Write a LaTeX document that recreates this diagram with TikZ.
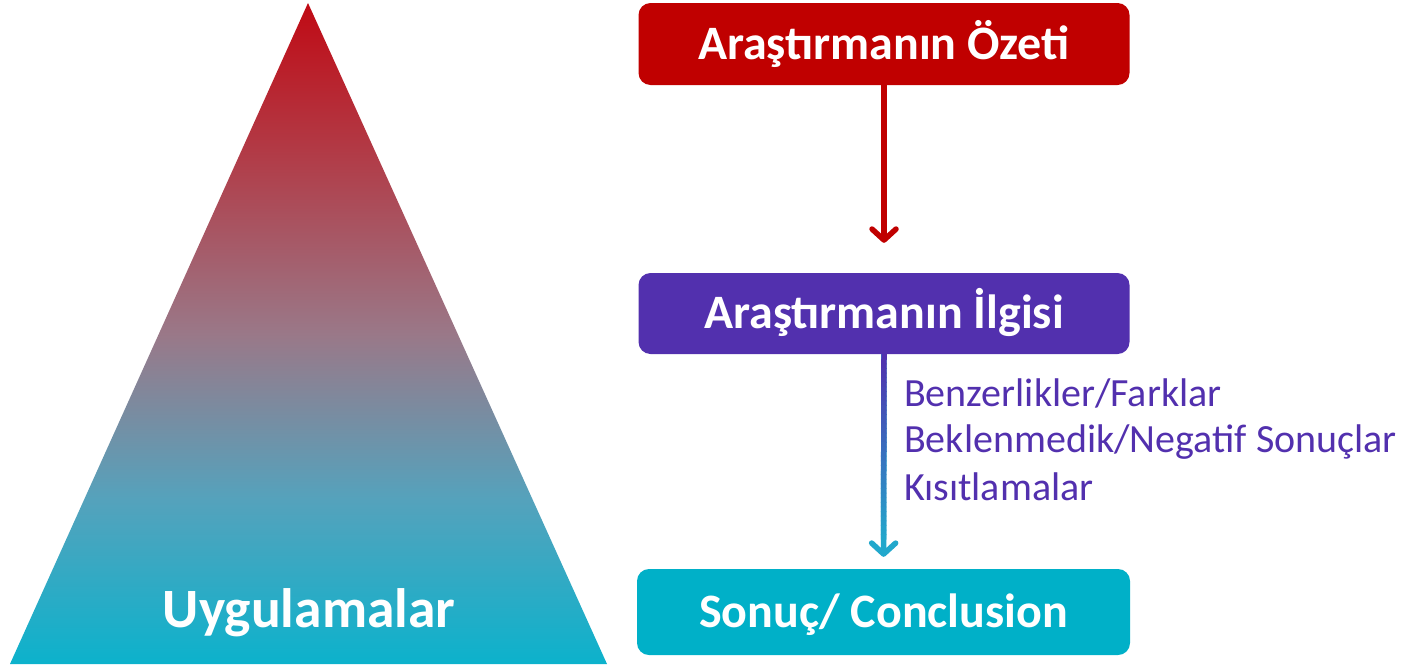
\documentclass[tikz,border=0pt]{standalone}
\usepackage{fontspec}
\setmainfont{Carlito}
\usetikzlibrary{arrows.meta,calc}
\definecolor{ozetred}{HTML}{C00000}
\definecolor{ilgipurple}{HTML}{5230AE}
\definecolor{sonuccyan}{HTML}{00B0C8}
\definecolor{headcyan}{HTML}{22A8CC}
\definecolor{tritop}{HTML}{C00A14}
\definecolor{trihigh}{HTML}{B0404C}
\definecolor{trimid}{HTML}{9A7888}
\definecolor{trilow}{HTML}{55A2BC}
\definecolor{tribot}{HTML}{0CB2CC}
\pgfdeclareverticalshading{trishade}{100bp}{color(0bp)=(tribot); color(25bp)=(tribot); color(37.5bp)=(trilow); color(50bp)=(trimid); color(62.5bp)=(trihigh); color(75bp)=(tritop); color(100bp)=(tritop)}
\tikzset{
	stagebox/.style={rounded corners=12pt, minimum width=491pt, minimum height=81pt, inner sep=0pt, text=white, font=\fontsize{48}{58}\selectfont\bfseries, text height=30.5pt, text depth=0pt},
	flowarrow/.style={line width=5.5pt, -{Straight Barb[length=11pt,width=24pt,round]}},
	noteitem/.style={anchor=base west, inner sep=0pt, text=ilgipurple, font=\fontsize{40}{48}\selectfont},
}
\begin{document}
\begin{tikzpicture}[x=1pt,y=-1pt]
			%%%%% START %%%%%
			\useasboundingbox (0,0) rectangle (1404,664);
			
			\shade[shading=trishade] (308,3) -- (607,664) -- (10,664) -- cycle;
			\node[inner sep=0pt, text=white, font=\fontsize{55.5}{66}\selectfont\bfseries, text height=35pt, text depth=0pt] (uyg) at (309,609.5) {Uygulamalar};
			
			\node[stagebox, fill=ozetred, minimum height=82pt] (ozet) at (884,44) {Araştırmanın Özeti};
			\node[stagebox, fill=ilgipurple] (ilgi) at (884,313.5) {Araştırmanın İlgisi};
			\node[stagebox, fill=sonuccyan, minimum width=493pt, minimum height=86pt] (sonuc) at (883.5,612) {Sonuç/ Conclusion};
			
			\draw[flowarrow, ozetred, shorten >=30pt] (ozet) -- (ilgi);
			\draw[flowarrow, headcyan, shorten >=12pt] (ilgi) -- (sonuc);
			
			\coordinate (shaftend) at ($(sonuc.north)+(0,-30)$);
			\foreach \k in {0,...,39}{
				\pgfmathtruncatemacro{\mix}{100-2.5*\k}
				\pgfmathsetmacro{\ta}{\k/40}
				\pgfmathsetmacro{\tb}{(\k+1.2)/40}
				\draw[line width=5.5pt, ilgipurple!\mix!headcyan] ($(ilgi.south)!\ta!(shaftend)$) -- ($(ilgi.south)!\tb!(shaftend)$);
			}
			
			\node[noteitem] (benz) at (904,406) {Benzerlikler/Farklar};
			\node[noteitem] (bekl) at (904,452) {Beklenmedik/Negatif Sonuçlar};
			\node[noteitem] (kisit) at (904,500) {Kısıtlamalar};
			
			%%%%% END %%%%%
\end{tikzpicture}
\end{document}
